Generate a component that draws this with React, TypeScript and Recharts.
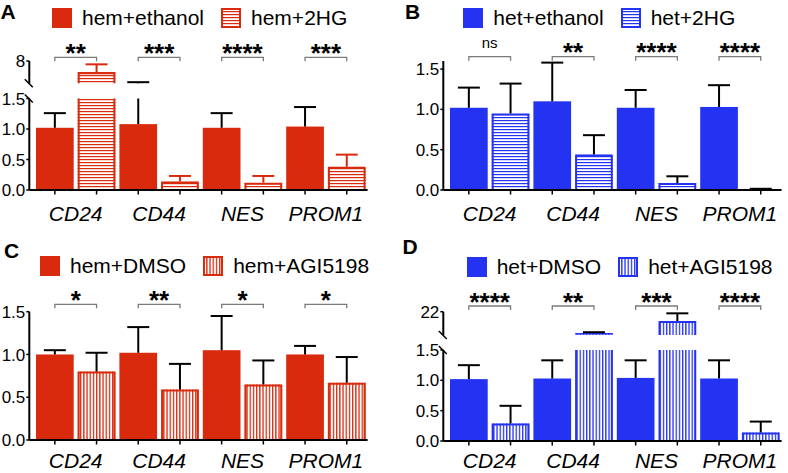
import React from 'react';
import { BarChart, Bar, XAxis, YAxis, Legend } from 'recharts';

const FONT = '"Liberation Sans", Arial, Helvetica, sans-serif';
const RED = '#D92A0D';
const BLUE = '#2433F2';
const BAR = 37.7;
const GAP = 4;

const categories = ['CD24', 'CD44', 'NES', 'PROM1'];

// Panel A
const hemEthanol = [1.02, 1.08, 1.02, 1.04];
const hemEthanolErr = [0.24, 1.22, 0.24, 0.32];
const hem2HG = [5.0, 0.14, 0.12, 0.38];
const hem2HGErr = [2.1, 0.09, 0.11, 0.2];
const sigA = ['**', '***', '****', '***'];

// Panel B
const hetEthanol = [1.02, 1.1, 1.02, 1.03];
const hetEthanolErr = [0.25, 0.48, 0.22, 0.27];
const het2HG = [0.95, 0.44, 0.086, 0.01];
const het2HGErr = [0.37, 0.24, 0.084, 0.005];
const sigB = ['ns', '**', '****', '****'];

// Panel C
const hemDMSO = [1.0, 1.02, 1.05, 1.0];
const hemDMSOErr = [0.05, 0.3, 0.4, 0.1];
const hemAGI = [0.8, 0.59, 0.65, 0.67];
const hemAGIErr = [0.22, 0.3, 0.28, 0.3];
const sigC = ['*', '**', '*', '*'];

// Panel D
const hetDMSO = [1.02, 1.03, 1.04, 1.03];
const hetDMSOErr = [0.23, 0.3, 0.29, 0.3];
const hetAGI = [0.29, 3.5, 14.0, 0.14];
const hetAGIErr = [0.29, 0.9, 6.6, 0.18];
const sigD = ['****', '**', '***', '****'];

interface Panel {
  id: string;
  letter: string;
  letterX: number;
  letterY: number;
  left: number;
  top: number;
  width: number;
  height: number;
  yAxisWidth: number;
  marginRight: number;
  padLeft: number;
  color: string;
  hatch: 'h' | 'v';
  hatchErr: string;
  s1: number[];
  e1: number[];
  s2: number[];
  e2: number[];
  sig: string[];
  names: string[];
  lowerTop: number;
  lowerBottom: number;
  lowerDomain: [number, number];
  lowerTicks: number[];
  broken: boolean;
  labelMargin: number;
  upper?: { height: number; top: number; bottom: number; domain: [number, number]; label: number };
  sigY: number;
  legendLeft: number;
  legendTop: number;
}

const panels: Panel[] = [
  {
    id: 'A', letter: 'A', letterX: 0.5, letterY: 19, left: 0, top: 0, width: 394, height: 236,
    yAxisWidth: 29.3, marginRight: 26.4, padLeft: 4.7, color: RED, hatch: 'h', hatchErr: RED,
    s1: hemEthanol, e1: hemEthanolErr, s2: hem2HG, e2: hem2HGErr, sig: sigA,
    names: ['hem+ethanol', 'hem+2HG'],
    lowerTop: 98.5, lowerBottom: 190, lowerDomain: [0, 1.5], lowerTicks: [0, 0.5, 1, 1.5], broken: true,
    labelMargin: 12,
    upper: { height: 90, top: 61, bottom: 83.3, domain: [2, 8], label: 8 },
    sigY: 57.3, legendLeft: 52, legendTop: 6,
  },
  {
    id: 'B', letter: 'B', letterX: 405, letterY: 19, left: 394, top: 0, width: 394, height: 236,
    yAxisWidth: 49.3, marginRight: 6.4, padLeft: 4.7, color: BLUE, hatch: 'h', hatchErr: '#000',
    s1: hetEthanol, e1: hetEthanolErr, s2: het2HG, e2: het2HGErr, sig: sigB,
    names: ['het+ethanol', 'het+2HG'],
    lowerTop: 61, lowerBottom: 190, lowerDomain: [0, 1.6], lowerTicks: [0, 0.5, 1, 1.5], broken: false,
    labelMargin: 12,
    sigY: 56.7, legendLeft: 69.3, legendTop: 6,
  },
  {
    id: 'C', letter: 'C', letterX: 4, letterY: 258, left: 0, top: 236, width: 394, height: 237,
    yAxisWidth: 29.3, marginRight: 26.4, padLeft: 4.7, color: RED, hatch: 'v', hatchErr: '#000',
    s1: hemDMSO, e1: hemDMSOErr, s2: hemAGI, e2: hemAGIErr, sig: sigC,
    names: ['hem+DMSO', 'hem+AGI5198'],
    lowerTop: 75.7, lowerBottom: 204, lowerDomain: [0, 1.5], lowerTicks: [0, 0.5, 1, 1.5], broken: false,
    labelMargin: 9,
    sigY: 68.3, legendLeft: 40, legendTop: 18,
  },
  {
    id: 'D', letter: 'D', letterX: 402.5, letterY: 254, left: 394, top: 236, width: 394, height: 237,
    yAxisWidth: 49.3, marginRight: 6.4, padLeft: 4.7, color: BLUE, hatch: 'v', hatchErr: '#000',
    s1: hetDMSO, e1: hetDMSOErr, s2: hetAGI, e2: hetAGIErr, sig: sigD,
    names: ['het+DMSO', 'het+AGI5198'],
    lowerTop: 114, lowerBottom: 205, lowerDomain: [0, 1.5], lowerTicks: [0, 0.5, 1, 1.5], broken: true,
    labelMargin: 8,
    upper: { height: 110, top: 75.7, bottom: 99, domain: [2, 22], label: 22 },
    sigY: 70, legendLeft: 72.7, legendTop: 19,
  },
];

type Row = {
  name: string;
  a: number | null;
  b: number | null;
  av: number;
  ae: number;
  bv: number;
  be: number;
  sig: string;
};

function buildRows(p: Panel, mode: 'lower' | 'upper'): Row[] {
  const cut = p.lowerDomain[1];
  const upperMin = p.upper ? p.upper.domain[0] : cut;
  const pick = (v: number, e: number): number | null => {
    if (mode === 'lower') return Math.min(v, cut);
    if (v > cut) return v;
    if (v + e > cut) return upperMin;
    return null;
  };
  return categories.map((name, i) => ({
    name,
    a: pick(p.s1[i], p.e1[i]),
    b: pick(p.s2[i], p.e2[i]),
    av: p.s1[i],
    ae: p.e1[i],
    bv: p.s2[i],
    be: p.e2[i],
    sig: p.sig[i],
  }));
}

function PatternDef({ id, color, dir }: { id: string; color: string; dir: 'h' | 'v' }) {
  if (dir === 'h') {
    return (
      <pattern id={id} patternUnits="userSpaceOnUse" width={6} height={3}>
        <rect x={0} y={0} width={6} height={3} fill="#fff" />
        <rect x={0} y={0} width={6} height={1.2} fill={color} />
      </pattern>
    );
  }
  return (
    <pattern id={id} patternUnits="userSpaceOnUse" width={3.2} height={6}>
      <rect x={0} y={0} width={3.2} height={6} fill="#fff" />
      <rect x={0} y={0} width={1.3} height={6} fill={color} />
    </pattern>
  );
}

interface ShapeOpts {
  series: 'a' | 'b';
  hatched: boolean;
  color: string;
  patternId: string;
  errColor: string;
  lo: number;
  hi: number;
  segment: 'lower' | 'upper';
  sigY?: number;
}

function makeShape(o: ShapeOpts) {
  return function BarShape(props: any) {
    const { x, y, width, height, payload, background } = props;
    if (!payload || payload[o.series] == null || !Number.isFinite(x) || !background) return <g />;
    const v: number = payload[o.series + 'v'];
    const e: number = payload[o.series + 'e'];
    const plotTop: number = background.y;
    const plotH: number = background.height;
    const base = plotTop + plotH;
    const ppu = plotH / (o.hi - o.lo);
    const py = (val: number) => base - (val - o.lo) * ppu;
    const cx = x + width / 2;
    const parts: React.ReactNode[] = [];
    const clippedTop = v > o.hi;
    const showRect = v > o.lo && Number.isFinite(y) && Number.isFinite(height) && height > 0;

    if (showRect) {
      if (o.hatched) {
        parts.push(
          <rect key="fill" x={x} y={y} width={width} height={height} fill={`url(#${o.patternId})`} />
        );
        const l = x + 1;
        const r = x + width - 1;
        const b = y + height;
        if (height < 2.5) {
          parts.push(<line key="thin" x1={x} x2={x + width} y1={y + 0.5} y2={y + 0.5} stroke={o.color} strokeWidth={1.5} />);
        } else {
          const t = y + 1;
          const d = clippedTop
            ? `M${l},${b} L${l},${y} M${r},${y} L${r},${b}`
            : `M${l},${b} L${l},${t} L${r},${t} L${r},${b}`;
          parts.push(<path key="outline" d={d} fill="none" stroke={o.color} strokeWidth={2} />);
        }
      } else {
        parts.push(<rect key="fill" x={x} y={y} width={width} height={height} fill={o.color} />);
      }
    }

    const errTop = v + e;
    if (!clippedTop && errTop > o.lo) {
      const startY = v >= o.lo ? y : base;
      const endY = py(Math.min(errTop, o.hi));
      if (endY < startY) {
        parts.push(
          <line key="err" x1={cx} x2={cx} y1={startY} y2={endY} stroke={o.errColor} strokeWidth={2} />
        );
      }
      if (errTop <= o.hi) {
        const cy = py(errTop);
        parts.push(
          <line key="cap" x1={cx - 11} x2={cx + 11} y1={cy} y2={cy} stroke={o.errColor} strokeWidth={2} />
        );
      }
    }

    if (o.segment === 'lower') {
      parts.push(
        <line key="tick" x1={cx} x2={cx} y1={base + 1} y2={base + 4.5} stroke="#000" strokeWidth={1.5} />
      );
      if (o.sigY != null && o.series === 'b' && payload.sig) {
        const pcx = cx - width - GAP;
        const sy = o.sigY;
        parts.push(
          <path
            key="bracket"
            d={`M${pcx},${sy + 4} L${pcx},${sy} L${cx},${sy} L${cx},${sy + 4}`}
            fill="none"
            stroke="#7a7a7a"
            strokeWidth={1.3}
          />
        );
        const isNs = payload.sig === 'ns';
        parts.push(
          <text
            key="sig"
            x={(pcx + cx) / 2}
            y={isNs ? sy - 8.4 : sy + 4.5}
            textAnchor="middle"
            fontFamily={FONT}
            fontSize={isNs ? 15 : 26}
            fontWeight={isNs ? 'normal' : 'bold'}
            fill="#000"
          >
            {payload.sig}
          </text>
        );
      }
    }
    return <g>{parts}</g>;
  };
}

function makeYTick(o: { labels: number[]; breakAt?: number; fmt: (v: number) => string }) {
  return function YTick(props: any) {
    const { x, y, payload } = props;
    const val = payload?.value;
    const ax = x + 4;
    const els: React.ReactNode[] = [];
    if (o.labels.includes(val)) {
      els.push(<line key="t" x1={ax - 3} x2={ax} y1={y} y2={y} stroke="#000" strokeWidth={1.5} />);
      els.push(
        <text key="l" x={x} y={y} dy="0.355em" textAnchor="end" fontFamily={FONT} fontSize={17} fill="#000">
          {o.fmt(val)}
        </text>
      );
    }
    if (o.breakAt === val) {
      els.push(
        <line key="b" x1={ax - 4.5} y1={y - 4} x2={ax + 3.5} y2={y + 4} stroke="#000" strokeWidth={1.5} />
      );
    }
    return <g>{els}</g>;
  };
}

function LegendBox({ p, payload }: { p: Panel; payload?: any[] }) {
  const label = (key: string, i: number) => {
    const hit = payload ? payload.find((it: any) => it && it.dataKey === key) : null;
    return (hit && hit.value) || p.names[i];
  };
  const pid = `${p.id}-legpat`;
  return (
    <div
      style={{
        display: 'flex',
        alignItems: 'center',
        height: 24,
        fontFamily: FONT,
        fontSize: 21,
        color: '#000',
        whiteSpace: 'nowrap',
      }}
    >
      <svg width={20} height={20} style={{ display: 'block' }}>
        <rect x={0} y={0} width={20} height={20} fill={p.color} />
      </svg>
      <span style={{ marginLeft: 10, lineHeight: '24px' }}>{label('a', 0)}</span>
      <svg width={20} height={20} style={{ display: 'block', marginLeft: 17 }}>
        <defs>
          <PatternDef id={pid} color={p.color} dir={p.hatch} />
        </defs>
        <rect x={1} y={1} width={18} height={18} fill={`url(#${pid})`} stroke={p.color} strokeWidth={2} />
      </svg>
      <span style={{ marginLeft: 10, lineHeight: '24px' }}>{label('b', 1)}</span>
    </div>
  );
}

function PanelView({ p }: { p: Panel }) {
  const lowerRows = buildRows(p, 'lower');
  const upperRows = buildRows(p, 'upper');
  const [lo, hi] = p.lowerDomain;
  const patL = `${p.id}-patL`;
  const patU = `${p.id}-patU`;
  const xh = p.height - p.lowerBottom;
  const fmt1 = (v: number) => v.toFixed(1);
  return (
    <>
      <div style={{ position: 'absolute', left: p.left, top: p.top, width: p.width, height: p.height }}>
        <BarChart
          width={p.width}
          height={p.height}
          data={lowerRows}
          margin={{ top: p.lowerTop, right: p.marginRight, bottom: 0, left: 0 }}
          barSize={BAR}
          barGap={GAP}
        >
          <defs>
            <PatternDef id={patL} color={p.color} dir={p.hatch} />
          </defs>
          <XAxis
            dataKey="name"
            height={xh}
            interval={0}
            padding={{ left: p.padLeft, right: 0 }}
            tickLine={false}
            tickSize={4}
            tickMargin={p.labelMargin}
            axisLine={{ stroke: '#000', strokeWidth: 2 }}
            tick={{ fontSize: 21, fontStyle: 'italic', fill: '#000', fontFamily: FONT }}
          />
          <YAxis
            type="number"
            domain={[lo, hi]}
            ticks={p.lowerTicks}
            interval={0}
            width={p.yAxisWidth}
            tickLine={false}
            tickSize={3}
            tickMargin={1}
            axisLine={{ stroke: '#000', strokeWidth: 2 }}
            tick={makeYTick({ labels: p.lowerTicks, breakAt: p.broken ? 1.5 : undefined, fmt: fmt1 })}
          />
          <Legend
            layout="horizontal"
            verticalAlign="middle"
            align="center"
            wrapperStyle={{ top: p.legendTop, left: p.legendLeft, width: 340, height: 24 }}
            content={(lp: any) => <LegendBox p={p} payload={lp?.payload} />}
          />
          <Bar
            dataKey="a"
            name={p.names[0]}
            fill={p.color}
            isAnimationActive={false}
            shape={makeShape({
              series: 'a', hatched: false, color: p.color, patternId: patL, errColor: '#000',
              lo, hi, segment: 'lower',
            })}
          />
          <Bar
            dataKey="b"
            name={p.names[1]}
            fill={p.color}
            isAnimationActive={false}
            shape={makeShape({
              series: 'b', hatched: true, color: p.color, patternId: patL, errColor: p.hatchErr,
              lo, hi, segment: 'lower', sigY: p.sigY,
            })}
          />
        </BarChart>
      </div>
      {p.upper && (
        <div style={{ position: 'absolute', left: p.left, top: p.top, width: p.width, height: p.upper.height }}>
          <BarChart
            width={p.width}
            height={p.upper.height}
            data={upperRows}
            margin={{ top: p.upper.top, right: p.marginRight, bottom: p.upper.height - p.upper.bottom, left: 0 }}
            barSize={BAR}
            barGap={GAP}
          >
            <defs>
              <PatternDef id={patU} color={p.color} dir={p.hatch} />
            </defs>
            <XAxis dataKey="name" hide padding={{ left: p.padLeft, right: 0 }} />
            <YAxis
              type="number"
              domain={p.upper.domain}
              ticks={[p.upper.domain[0], p.upper.label]}
              interval={0}
              width={p.yAxisWidth}
              tickLine={false}
              tickSize={3}
              tickMargin={1}
              axisLine={{ stroke: '#000', strokeWidth: 2 }}
              tick={makeYTick({ labels: [p.upper.label], breakAt: p.upper.domain[0], fmt: (v) => String(v) })}
            />
            <Bar
              dataKey="a"
              name={p.names[0]}
              fill={p.color}
              isAnimationActive={false}
              shape={makeShape({
                series: 'a', hatched: false, color: p.color, patternId: patU, errColor: '#000',
                lo: p.upper.domain[0], hi: p.upper.domain[1], segment: 'upper',
              })}
            />
            <Bar
              dataKey="b"
              name={p.names[1]}
              fill={p.color}
              isAnimationActive={false}
              shape={makeShape({
                series: 'b', hatched: true, color: p.color, patternId: patU, errColor: p.hatchErr,
                lo: p.upper.domain[0], hi: p.upper.domain[1], segment: 'upper',
              })}
            />
          </BarChart>
        </div>
      )}
    </>
  );
}

export default function App() {
  return (
    <div
      style={{
        position: 'absolute',
        left: 0,
        top: 0,
        width: 788,
        height: 473,
        background: '#fff',
        overflow: 'hidden',
        fontFamily: FONT,
      }}
    >
      {panels.map((p) => (
        <PanelView key={p.id} p={p} />
      ))}
      <svg
        width={788}
        height={473}
        style={{ position: 'absolute', left: 0, top: 0, pointerEvents: 'none' }}
      >
        {panels.map((p) => (
          <text key={p.id} x={p.letterX} y={p.letterY} fontFamily={FONT} fontWeight="bold" fontSize={21} fill="#000">
            {p.letter}
          </text>
        ))}
      </svg>
    </div>
  );
}
